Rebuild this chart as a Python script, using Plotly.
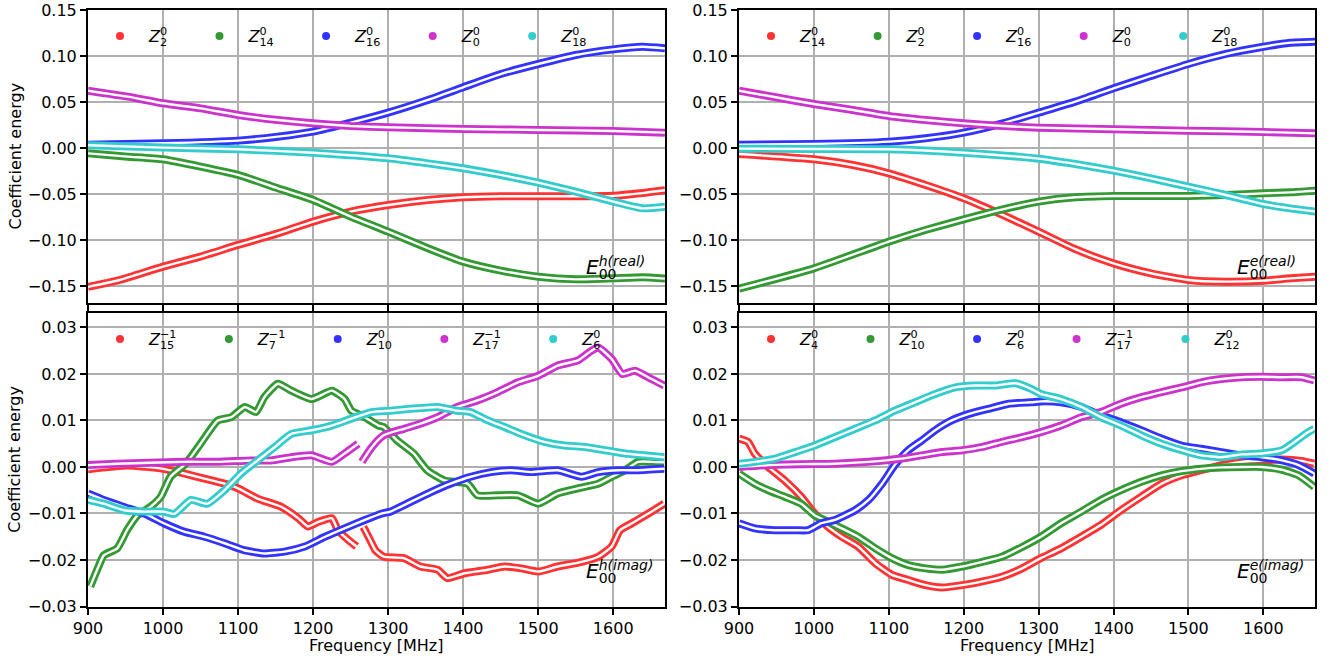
import plotly.graph_objects as go

# ---------------- data ----------------
# Top-left panel: E00 h(real)
TL_Z2_F = [900, 942, 1000, 1050, 1100, 1153, 1200, 1250, 1300, 1353, 1400, 1450, 1500, 1550, 1600, 1639, 1669]
TL_Z2_V = [-0.151, -0.1435, -0.129, -0.118, -0.1054, -0.0928, -0.080, -0.0692, -0.062, -0.0565, -0.0536,
           -0.0525, -0.0525, -0.0525, -0.052, -0.049, -0.046]
TL_Z14_F = [900, 953, 1000, 1050, 1100, 1153, 1200, 1250, 1300, 1353, 1400, 1450, 1500, 1550, 1600, 1639, 1669]
TL_Z14_V = [-0.0058, -0.0094, -0.0123, -0.0203, -0.0293, -0.0438, -0.0565, -0.0746, -0.0909, -0.109,
            -0.1236, -0.1333, -0.1399, -0.1428, -0.1417, -0.1406, -0.142]
TL_Z16_F = [900, 1000, 1100, 1153, 1200, 1250, 1300, 1353, 1400, 1450, 1500, 1550, 1600, 1639, 1669]
TL_Z16_V = [0.0036, 0.0051, 0.008, 0.0123, 0.0178, 0.0275, 0.0384, 0.0522, 0.066, 0.0804, 0.0913, 0.1011,
            0.1072, 0.110, 0.1083]
TL_Z0_F = [900, 953, 1000, 1050, 1100, 1153, 1200, 1250, 1300, 1400, 1500, 1600, 1669]
TL_Z0_V = [0.0623, 0.0558, 0.0486, 0.0431, 0.0359, 0.0304, 0.0268, 0.0239, 0.0225, 0.0207, 0.0196, 0.0185, 0.0167]
TL_Z18_F = [900, 1000, 1100, 1200, 1300, 1353, 1400, 1450, 1500, 1550, 1600, 1639, 1669]
TL_Z18_V = [0.0029, 0.0004, -0.0014, -0.0051, -0.0112, -0.0167, -0.0221, -0.0293, -0.0377, -0.0475, -0.0583,
            -0.0656, -0.0638]

# Top-right panel: E00 e(real)
TR_Z14_F = [900, 1000, 1052, 1100, 1149, 1200, 1252, 1300, 1349, 1400, 1450, 1500, 1550, 1600, 1636, 1670]
TR_Z14_V = [-0.0065, -0.0123, -0.0185, -0.0275, -0.0402, -0.0547, -0.0728, -0.0909, -0.110, -0.1254, -0.1362,
            -0.1435, -0.1453, -0.1442, -0.1417, -0.1399]
TR_Z2_F = [900, 1000, 1100, 1149, 1200, 1252, 1300, 1349, 1400, 1450, 1500, 1550, 1600, 1636, 1670]
TR_Z2_V = [-0.1529, -0.1308, -0.1018, -0.0891, -0.0775, -0.0667, -0.0583, -0.0536, -0.0522, -0.0522, -0.0522,
           -0.0511, -0.0493, -0.0482, -0.0464]
TR_Z16_F = [900, 1000, 1100, 1149, 1200, 1252, 1300, 1349, 1400, 1450, 1500, 1550, 1600, 1636, 1670]
TR_Z16_V = [0.0036, 0.0043, 0.0069, 0.0105, 0.0167, 0.0268, 0.0384, 0.0504, 0.0649, 0.0783, 0.0913, 0.1022,
            0.1101, 0.1145, 0.1156]
TR_Z0_F = [900, 949, 1000, 1052, 1100, 1149, 1200, 1252, 1300, 1400, 1500, 1600, 1670]
TR_Z0_V = [0.0623, 0.0551, 0.0478, 0.0413, 0.0348, 0.0304, 0.0268, 0.0239, 0.0221, 0.0203, 0.0188, 0.0174, 0.0159]
TR_Z18_F = [900, 1000, 1100, 1200, 1300, 1349, 1400, 1450, 1500, 1550, 1600, 1636, 1670]
TR_Z18_V = [-0.0007, -0.0011, -0.0014, -0.0051, -0.0116, -0.0174, -0.0246, -0.033, -0.042, -0.0511, -0.0609,
            -0.0656, -0.0692]

# Bottom-left panel: E00 h(imag)
BL_Z15_F = [900, 952, 1000, 1028, 1055, 1082, 1100, 1126, 1158, 1180, 1193, 1207, 1225, 1233, 1247, 1258, None,
            1267, 1276, 1283, 1294, 1321, 1343, 1366, 1379, 1401, 1433, 1455, 1477, 1500, 1526, 1558, 1580,
            1598, 1609, 1625, 1647, 1668]
BL_Z15_V = [-0.0005, 0.0003, -0.0004, -0.0014, -0.0025, -0.0036, -0.0046, -0.0068, -0.0086, -0.011, -0.0128,
            -0.0118, -0.011, -0.0136, -0.0157, -0.0171, None,
            -0.0129, -0.0157, -0.0179, -0.0193, -0.0196, -0.0214, -0.0221, -0.0239, -0.0229, -0.0221, -0.0214,
            -0.0218, -0.0225, -0.0214, -0.0204, -0.0193, -0.0171, -0.0136, -0.0121, -0.01, -0.0079]
BL_Z7_F = [903, 914, 921, 939, 952, 966, 983, 997, 1010, 1028, 1037, 1050, 1073, 1091, 1109, 1124, 1135, 1153,
           1171, 1198, 1225, 1242, 1251, 1269, 1287, 1294, 1312, 1334, 1352, 1375, 1406, 1419, 1446, 1473, 1500,
           1526, 1553, 1580, 1598, 1616, 1633, 1651, 1668]
BL_Z7_V = [-0.0257, -0.0214, -0.019, -0.0175, -0.0136, -0.0104, -0.0086, -0.0064, -0.0021, 0.0004, 0.0021,
           0.005, 0.01, 0.0107, 0.0129, 0.0118, 0.015, 0.0179, 0.0164, 0.0146, 0.0164, 0.0146, 0.0121, 0.0107,
           0.0089, 0.0086, 0.0057, 0.0029, -0.0007, -0.0029, -0.0036, -0.0061, -0.0061, -0.0061, -0.0079,
           -0.0057, -0.0046, -0.0036, -0.0021, -0.0007, 0.0011, 0.0011, 0.001]
BL_Z10_F = [900, 921, 948, 975, 1001, 1028, 1055, 1082, 1108, 1135, 1162, 1189, 1216, 1242, 1269, 1292, 1303,
            1330, 1357, 1383, 1410, 1437, 1464, 1491, 1526, 1558, 1580, 1607, 1633, 1668]
BL_Z10_V = [-0.0057, -0.0071, -0.0086, -0.01, -0.0121, -0.0139, -0.015, -0.0164, -0.0179, -0.0186, -0.0182,
            -0.0171, -0.015, -0.0132, -0.0114, -0.01, -0.0096, -0.0075, -0.0054, -0.0036, -0.0021, -0.0011,
            -0.0007, -0.0011, -0.0007, -0.0021, -0.0011, -0.0007, -0.0007, -0.0004]
BL_Z17_F = [900, 939, 983, 1028, 1073, 1117, 1144, 1171, 1198, 1225, 1242, 1260, None, 1265, 1278, 1294, 1321,
            1343, 1366, 1392, 1419, 1446, 1473, 1500, 1526, 1553, 1571, 1580, 1598, 1612, 1629, 1651, 1668]
BL_Z17_V = [0.0004, 0.0007, 0.0009, 0.0011, 0.0011, 0.0014, 0.0014, 0.0021, 0.0025, 0.0011, 0.0029, 0.005, None,
            0.0011, 0.0042, 0.0068, 0.0082, 0.0093, 0.0107, 0.0129, 0.0143, 0.0161, 0.0182, 0.0196, 0.0218,
            0.0229, 0.025, 0.0257, 0.0232, 0.02, 0.0207, 0.0189, 0.0175]
BL_Z6_F = [900, 921, 948, 975, 1001, 1015, 1037, 1059, 1082, 1104, 1126, 1149, 1171, 1198, 1225, 1251, 1278,
           1303, 1330, 1366, 1392, 1410, 1433, 1455, 1482, 1508, 1535, 1562, 1589, 1616, 1642, 1668]
BL_Z6_V = [-0.0071, -0.0079, -0.0093, -0.0096, -0.0096, -0.0101, -0.0071, -0.0079, -0.005, -0.0014, 0.0014,
           0.0043, 0.0071, 0.0079, 0.0089, 0.0104, 0.0118, 0.0121, 0.0125, 0.0129, 0.0121, 0.0118, 0.01, 0.0086,
           0.0068, 0.0054, 0.0046, 0.0043, 0.0036, 0.0029, 0.0025, 0.0021]

# Bottom-right panel: E00 e(imag)
BR_Z4_F = [900, 912, 921, 939, 961, 983, 1001, 1019, 1037, 1059, 1082, 1104, 1126, 1149, 1171, 1198, 1225, 1251,
           1278, 1303, 1330, 1357, 1383, 1410, 1437, 1464, 1491, 1517, 1544, 1571, 1598, 1625, 1651, 1668]
BR_Z4_V = [0.0061, 0.0054, 0.0029, 0.0, -0.0029, -0.0064, -0.01, -0.0129, -0.015, -0.0171, -0.0207, -0.0232,
           -0.0243, -0.0254, -0.0259, -0.0254, -0.0246, -0.0236, -0.0218, -0.0196, -0.0175, -0.015, -0.0125,
           -0.0093, -0.0064, -0.0036, -0.0018, -0.0007, 0.0004, 0.0011, 0.0014, 0.0016, 0.0013, 0.0007]
BR_Z10_F = [900, 921, 939, 961, 983, 1001, 1019, 1037, 1059, 1082, 1104, 1126, 1149, 1171, 1198, 1225, 1251,
            1278, 1303, 1330, 1357, 1383, 1410, 1437, 1464, 1491, 1517, 1544, 1571, 1598, 1625, 1647, 1668]
BR_Z10_V = [-0.0014, -0.0036, -0.005, -0.0064, -0.0079, -0.0104, -0.0118, -0.0132, -0.015, -0.0175, -0.0196,
            -0.0211, -0.0218, -0.0221, -0.0214, -0.0204, -0.0193, -0.0172, -0.015, -0.0121, -0.0096, -0.0071,
            -0.005, -0.0032, -0.0018, -0.0009, -0.0004, -0.0001, 0.0, 0.0, -0.0006, -0.0018, -0.0043]
BR_Z6_F = [900, 921, 948, 975, 992, 1010, 1028, 1055, 1073, 1091, 1108, 1126, 1144, 1162, 1184, 1207, 1233, 1260,
           1290, 1303, 1330, 1357, 1383, 1410, 1437, 1464, 1491, 1517, 1544, 1571, 1598, 1625, 1647, 1668]
BR_Z6_V = [-0.0121, -0.0132, -0.0136, -0.0136, -0.0136, -0.0121, -0.0114, -0.0093, -0.0071, -0.0036, 0.0004,
           0.0036, 0.0057, 0.0079, 0.01, 0.0114, 0.0125, 0.0136, 0.0139, 0.0141, 0.0139, 0.0129, 0.0111, 0.0096,
           0.0079, 0.0061, 0.0046, 0.0039, 0.0032, 0.0025, 0.0021, 0.0014, 0.0004, -0.0014]
BR_Z17_F = [900, 939, 983, 1028, 1073, 1117, 1144, 1171, 1198, 1225, 1251, 1278, 1303, 1330, 1357, 1383, 1410,
            1437, 1464, 1491, 1517, 1544, 1571, 1598, 1625, 1651, 1668]
BR_Z17_V = [0.0, 0.0004, 0.0006, 0.0007, 0.0011, 0.0018, 0.0025, 0.0032, 0.0036, 0.0043, 0.0054, 0.0064, 0.0075,
            0.0089, 0.0107, 0.0118, 0.0136, 0.015, 0.0161, 0.0171, 0.0182, 0.0189, 0.0193, 0.0194, 0.0193, 0.0193,
            0.0186]
BR_Z12_F = [900, 921, 948, 975, 1001, 1028, 1055, 1082, 1108, 1135, 1162, 1189, 1216, 1242, 1269, 1290, 1303,
            1330, 1357, 1383, 1410, 1437, 1464, 1491, 1517, 1544, 1571, 1598, 1625, 1642, 1660, 1668]
BR_Z12_V = [0.0007, 0.0011, 0.0018, 0.0032, 0.0046, 0.0064, 0.0082, 0.01, 0.0121, 0.0139, 0.0157, 0.0171, 0.0175,
            0.0175, 0.018, 0.0168, 0.0157, 0.0146, 0.0129, 0.0107, 0.0089, 0.0068, 0.005, 0.0036, 0.0025, 0.0021,
            0.0027, 0.0029, 0.0036, 0.0054, 0.0075, 0.0082]

# legend labels: (subscript, superscript) of Z
TL_LABELS = [("2", "0"), ("14", "0"), ("16", "0"), ("0", "0"), ("18", "0")]
TR_LABELS = [("14", "0"), ("2", "0"), ("16", "0"), ("0", "0"), ("18", "0")]
BL_LABELS = [("15", "−1"), ("7", "−1"), ("10", "0"), ("17", "−1"), ("6", "0")]
BR_LABELS = [("4", "0"), ("10", "0"), ("6", "0"), ("17", "−1"), ("12", "0")]
PANEL_TAGS = ["h(real)", "e(real)", "h(imag)", "e(imag)"]

X_TICKS = [900, 1000, 1100, 1200, 1300, 1400, 1500, 1600]
TOP_TICKS = [-0.15, -0.10, -0.05, 0.00, 0.05, 0.10, 0.15]
BOT_TICKS = [-0.03, -0.02, -0.01, 0.00, 0.01, 0.02, 0.03]
X_TITLE = "Frequency [MHz]"
Y_TITLE = "Coefficient energy"

# ---------------- styling ----------------
FONT = "DejaVu Sans"
COLORS = ["#ff3333", "#339933", "#3333ff", "#cc33cc", "#33cccc"]
W, H = 1330, 659
LX = (88, 665)
RX = (739, 1315)
TY = (10, 303)
BY = (313, 606.5)


def px_to_xdom(a):
    return [a[0] / W, a[1] / W]


def px_to_ydom(a):
    return [1 - a[1] / H, 1 - a[0] / H]


def fmt_tick(v):
    return ("%.2f" % v).replace("-", "−")


DIGIT_EM = 0.636
MINUS_EM = 0.838


def gw(s):
    return sum(MINUS_EM if ch == "−" else DIGIT_EM for ch in s)


def zero_adv(s):
    w = gw(s)
    return s[:-1] + "<span style='letter-spacing:-%.3fem'>%s</span>" % (w, s[-1])


def stacked(base, sub, sup, sup_italic=False):
    sup_txt = "<i>%s</i>" % sup if sup_italic else sup
    if gw(sub) <= gw(sup) or sup_italic:
        return base + "<sub>" + zero_adv(sub) + "</sub><sup>" + sup_txt + "</sup>"
    return base + "<sup>" + zero_adv(sup) + "</sup><sub>" + sub + "</sub>"


panels = [
    dict(xa="x", ya="y", xd=LX, yd=TY, rng=[-0.1685, 0.15], ticks=TOP_TICKS, leg="legend", labels=TL_LABELS,
         series=[(TL_Z2_F, TL_Z2_V), (TL_Z14_F, TL_Z14_V), (TL_Z16_F, TL_Z16_V), (TL_Z0_F, TL_Z0_V),
                 (TL_Z18_F, TL_Z18_V)], showx=False, ytitle=True, tag=PANEL_TAGS[0]),
    dict(xa="x2", ya="y2", xd=RX, yd=TY, rng=[-0.1685, 0.15], ticks=TOP_TICKS, leg="legend2", labels=TR_LABELS,
         series=[(TR_Z14_F, TR_Z14_V), (TR_Z2_F, TR_Z2_V), (TR_Z16_F, TR_Z16_V), (TR_Z0_F, TR_Z0_V),
                 (TR_Z18_F, TR_Z18_V)], showx=False, ytitle=False, tag=PANEL_TAGS[1]),
    dict(xa="x3", ya="y3", xd=LX, yd=BY, rng=[-0.03, 0.0331], ticks=BOT_TICKS, leg="legend3", labels=BL_LABELS,
         series=[(BL_Z15_F, BL_Z15_V), (BL_Z7_F, BL_Z7_V), (BL_Z10_F, BL_Z10_V), (BL_Z17_F, BL_Z17_V),
                 (BL_Z6_F, BL_Z6_V)], showx=True, ytitle=True, tag=PANEL_TAGS[2]),
    dict(xa="x4", ya="y4", xd=RX, yd=BY, rng=[-0.03, 0.0331], ticks=BOT_TICKS, leg="legend4", labels=BR_LABELS,
         series=[(BR_Z4_F, BR_Z4_V), (BR_Z10_F, BR_Z10_V), (BR_Z6_F, BR_Z6_V), (BR_Z17_F, BR_Z17_V),
                 (BR_Z12_F, BR_Z12_V)], showx=True, ytitle=False, tag=PANEL_TAGS[3]),
]

fig = go.Figure()
layout = dict(width=W, height=H, margin=dict(l=0, r=0, t=0, b=0, autoexpand=False), paper_bgcolor="white",
              plot_bgcolor="white", font=dict(family=FONT, size=16, color="black"), showlegend=True)
annotations = []

for i, p in enumerate(panels):
    sfx = "" if i == 0 else str(i + 1)
    for (f, v), c, (sub, sup) in zip(p["series"], COLORS, p["labels"]):
        fig.add_trace(go.Scatter(x=f, y=v, mode="lines", xaxis=p["xa"], yaxis=p["ya"], showlegend=False,
                                 connectgaps=False, hoverinfo="skip",
                                 line=dict(color=c, width=8, shape="spline", smoothing=0.5)))
        fig.add_trace(go.Scatter(x=f, y=v, mode="lines", xaxis=p["xa"], yaxis=p["ya"], showlegend=False,
                                 connectgaps=False, hoverinfo="skip",
                                 line=dict(color="white", width=2.4, shape="spline", smoothing=0.5)))
    for c, (sub, sup) in zip(COLORS, p["labels"]):
        label_w = 0.685 * 16 + max(gw(sub), gw(sup)) * 11.2
        fig.add_trace(go.Scatter(x=[None], y=[None], mode="markers", xaxis=p["xa"], yaxis=p["ya"],
                                 marker=dict(size=8, color=c), name=stacked("<i>Z</i>", sub, sup),
                                 legend=p["leg"], legendwidth=label_w + 18.4))
    common = dict(ticks="outside", ticklen=6, tickwidth=1.5, tickcolor="black", showline=True,
                  linecolor="black", linewidth=2, mirror=True, showgrid=True, gridcolor="#b0b0b0",
                  gridwidth=1.6, zeroline=False, automargin=False, tickfont=dict(size=16, family=FONT))
    layout["xaxis" + sfx] = dict(domain=px_to_xdom(p["xd"]), range=[900, 1669], anchor=p["ya"],
                                 tickvals=X_TICKS, showticklabels=p["showx"], **common)
    layout["yaxis" + sfx] = dict(domain=px_to_ydom(p["yd"]), range=p["rng"], anchor=p["xa"],
                                 tickvals=p["ticks"], ticktext=[fmt_tick(t) for t in p["ticks"]], **common)
    dot_x = p["xd"][0] + 32
    layout[p["leg"]] = dict(orientation="h", x=(dot_x - 29) / W, xanchor="left",
                            y=1 - (p["yd"][0] + 9) / H, yanchor="top", itemwidth=48,
                            bgcolor="rgba(0,0,0,0)", font=dict(size=16, family=FONT),
                            tracegroupgap=0, itemclick=False)
    # panel tag E_00^{...}
    annotations.append(dict(text=stacked("<i>E</i>", "00", p["tag"], sup_italic=True),
                            x=(p["xd"][0] + 584 - 88) / W, y=1 - (p["yd"][1] - 19) / H,
                            xref="paper", yref="paper", xanchor="left", yanchor="bottom",
                            showarrow=False, font=dict(size=20, family=FONT, color="black")))
    if p["ytitle"]:
        annotations.append(dict(text=Y_TITLE, textangle=-90, x=15 / W,
                                y=1 - (p["yd"][0] + p["yd"][1]) / 2 / H, xref="paper", yref="paper",
                                xanchor="center", yanchor="middle", showarrow=False,
                                font=dict(size=16, family=FONT)))
    if p["showx"]:
        annotations.append(dict(text=X_TITLE, x=(p["xd"][0] + p["xd"][1]) / 2 / W, y=1 - 645 / H,
                                xref="paper", yref="paper", xanchor="center", yanchor="middle",
                                showarrow=False, font=dict(size=16, family=FONT)))

layout["annotations"] = annotations
fig.update_layout(**layout)
fig.write_html("out.html", config={"displayModeBar": False},
               post_script="document.body.style.margin='0';document.body.style.overflow='hidden';")
